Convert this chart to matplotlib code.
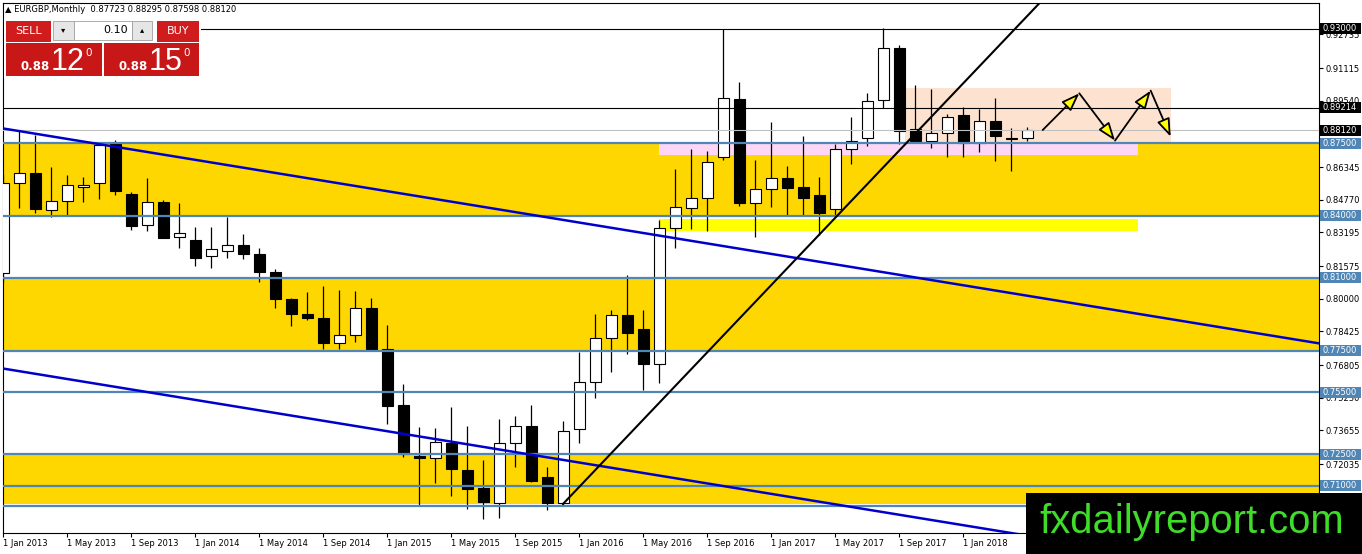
import numpy as np
import matplotlib.pyplot as plt
import matplotlib.transforms as mtransforms
from matplotlib.patches import Rectangle

# EURGBP monthly candles, Jan 2013 .. May 2018
opens = [0.8126, 0.8556, 0.8605, 0.8426, 0.8470, 0.8537, 0.8556, 0.8744, 0.8503, 0.8354,
         0.8465, 0.8296, 0.8282, 0.8205, 0.8229, 0.8258, 0.8216, 0.8130, 0.7997, 0.7925,
         0.7906, 0.7785, 0.7824, 0.7954, 0.7756, 0.7488, 0.7242, 0.7234, 0.7305, 0.7175,
         0.7086, 0.7014, 0.7303, 0.7387, 0.7140, 0.7014, 0.7371, 0.7597, 0.7809, 0.7920,
         0.7853, 0.7684, 0.8340, 0.8436, 0.8484, 0.8685, 0.8961, 0.8463, 0.8527, 0.8580,
         0.8537, 0.8500, 0.8431, 0.8720, 0.8773, 0.8958, 0.9207, 0.8817, 0.8762, 0.8797,
         0.8884, 0.8749, 0.8857, 0.8771, 0.87723]
highs = [0.8601, 0.8810, 0.8789, 0.8634, 0.8595, 0.8585, 0.8755, 0.8765, 0.8516, 0.8582,
         0.8476, 0.8460, 0.8346, 0.8346, 0.8395, 0.8312, 0.8245, 0.8145, 0.8002, 0.8031,
         0.8061, 0.8042, 0.8037, 0.8002, 0.7874, 0.7588, 0.7383, 0.7377, 0.7480, 0.7388,
         0.7223, 0.7420, 0.7436, 0.7488, 0.7191, 0.7412, 0.7745, 0.7927, 0.7946, 0.8114,
         0.7946, 0.8380, 0.8624, 0.8722, 0.8712, 0.9299, 0.9043, 0.8669, 0.8852, 0.8640,
         0.8784, 0.8588, 0.8746, 0.8874, 0.8990, 0.9303, 0.9223, 0.9030, 0.9009, 0.8890,
         0.8923, 0.8913, 0.8966, 0.8821, 0.88295]
lows = [0.8082, 0.8439, 0.8412, 0.8393, 0.8404, 0.8465, 0.8479, 0.8501, 0.8333, 0.8328,
        0.8291, 0.8246, 0.8159, 0.8150, 0.8198, 0.8193, 0.8079, 0.7954, 0.7870, 0.7898,
        0.7758, 0.7758, 0.7793, 0.7753, 0.7396, 0.7239, 0.7006, 0.7111, 0.7049, 0.6985,
        0.6937, 0.6942, 0.7191, 0.7118, 0.6982, 0.7005, 0.7306, 0.7520, 0.7648, 0.7732,
        0.7560, 0.7595, 0.8246, 0.8336, 0.8328, 0.8669, 0.8447, 0.8299, 0.8444, 0.8404,
        0.8404, 0.8307, 0.8395, 0.8648, 0.8738, 0.8918, 0.8746, 0.8755, 0.8728, 0.8685,
        0.8682, 0.8709, 0.8665, 0.8617, 0.87598]
closes = [0.8556, 0.8605, 0.8431, 0.8470, 0.8547, 0.8547, 0.8740, 0.8521, 0.8352, 0.8465,
          0.8294, 0.8315, 0.8198, 0.8238, 0.8258, 0.8214, 0.8130, 0.7997, 0.7925, 0.7906,
          0.7785, 0.7824, 0.7954, 0.7758, 0.7485, 0.7250, 0.7234, 0.7308, 0.7181, 0.7083,
          0.7022, 0.7303, 0.7387, 0.7123, 0.7014, 0.7364, 0.7600, 0.7809, 0.7920, 0.7836,
          0.7684, 0.8340, 0.8441, 0.8487, 0.8658, 0.8966, 0.8463, 0.8527, 0.8580, 0.8535,
          0.8484, 0.8412, 0.8720, 0.8762, 0.8954, 0.9207, 0.8810, 0.8762, 0.8797, 0.8874,
          0.8749, 0.8857, 0.8786, 0.8772, 0.88120]

tick_pos = list(range(0, 61, 4))
tick_labels = ['1 Jan 2013', '1 May 2013', '1 Sep 2013', '1 Jan 2014', '1 May 2014',
               '1 Sep 2014', '1 Jan 2015', '1 May 2015', '1 Sep 2015', '1 Jan 2016',
               '1 May 2016', '1 Sep 2016', '1 Jan 2017', '1 May 2017', '1 Sep 2017',
               '1 Jan 2018']
# 0.87950 sits fully under the 0.88120 / 0.87500 labels, so it is left out
price_ticks = [0.92735, 0.91115, 0.89540, 0.86345, 0.84770, 0.83195, 0.81575,
               0.80000, 0.78425, 0.76805, 0.75230, 0.73655, 0.72035, 0.70460]

support_levels = [0.875, 0.84, 0.81, 0.775, 0.755, 0.725, 0.71, 0.70]
gold_zones = [(0.84, 0.875), (0.775, 0.81), (0.7012, 0.725)]
black_levels = [0.93, 0.89214]
bid_price = 0.8812

# channel + trend lines (bar index, price)
upper_channel = ([-0.04, 82.23], [0.8821, 0.7785])
lower_channel = ([-0.04, 82.23], [0.7664, 0.6629])
uptrend = ([34.98, 64.79], [0.7011, 0.9427])
zigzag = [(64.96, 0.8813), (67.25, 0.8990), (69.48, 0.8762), (71.71, 0.9003), (72.96, 0.8781)]

W, H = 1362, 554
fig = plt.figure(figsize=(W / 100, H / 100), dpi=100)
fig.patch.set_facecolor('white')
ax = fig.add_axes([2.7 / W, 21 / H, (1319 - 2.7) / W, (533 - 2.7) / H])
ax.set_xlim(-0.0375, 82.23)
ax.set_ylim(0.68711, 0.94267)

steel = '#4f86b5'

# zones
for lo, hi in gold_zones:
    ax.axhspan(lo, hi, color='#ffd700', lw=0, zorder=0)
ax.add_patch(Rectangle((40.98, 0.86928), 70.92 - 40.98, 0.875 - 0.86928,
                       color='#fcd6f4', lw=0, zorder=0.5))
ax.add_patch(Rectangle((40.98, 0.83265), 70.92 - 40.98, 0.83843 - 0.83265,
                       color='#ffff00', lw=0, zorder=0.5))
ax.add_patch(Rectangle((56.36, 0.875), 73.0 - 56.36, 0.9014 - 0.875,
                       color='#fde3cf', lw=0, zorder=0.5))

# candles
x = np.arange(len(opens))
o = np.array(opens); c = np.array(closes)
ax.vlines(x, lows, highs, color='black', lw=0.9, zorder=3)
bottom = np.minimum(o, c)
height = np.maximum(np.abs(c - o), 0.0004)
fill = ['white' if cc >= oo else 'black' for oo, cc in zip(o, c)]
ax.bar(x, height, bottom=bottom, width=0.66, color=fill, edgecolor='black',
       linewidth=0.8, zorder=3.5)

# horizontal levels
for lvl in support_levels:
    ax.axhline(lvl, color=steel, lw=1.6, zorder=4)
for lvl in black_levels:
    ax.axhline(lvl, color='black', lw=0.8, zorder=4)
ax.axhline(bid_price, color='#c0c0c0', lw=0.8, zorder=4)

# trend lines
ax.plot(*upper_channel, color='#0000cc', lw=1.8, zorder=4.5)
ax.plot(*lower_channel, color='#0000cc', lw=1.8, zorder=4.5)
ax.plot(*uptrend, color='black', lw=1.5, zorder=4.5)

# zigzag projection
for a, b in zip(zigzag[:-1], zigzag[1:]):
    ax.annotate('', xy=b, xytext=a,
                arrowprops=dict(arrowstyle='-|>,head_length=1.1,head_width=0.4',
                                fc='yellow', ec='black', lw=1.3,
                                shrinkA=0, shrinkB=0), zorder=5)

# axes styling
for s in ax.spines.values():
    s.set_color('black')
    s.set_linewidth(0.8)
ax.yaxis.tick_right()
ax.set_yticks(price_ticks)
ax.set_yticklabels([f'{p:.5f}' for p in price_ticks])
ax.set_xticks(tick_pos)
ax.set_xticklabels(tick_labels, ha='left')
ax.tick_params(axis='both', direction='out', length=3, width=0.8, labelsize=6,
               colors='black', pad=1.5)

# highlighted price labels on the right axis (0.70000 one is under the watermark)
trans = mtransforms.blended_transform_factory(ax.transAxes, ax.transData)
axw = 1319 - 2.7
boxes = [(p, 'black') for p in black_levels + [bid_price]] + \
        [(p, steel) for p in support_levels if p > 0.705]
for p, col in boxes:
    ax.add_patch(Rectangle((1 + 1 / axw, p - 0.00265), 41 / axw, 0.0053,
                           transform=trans, color=col, lw=0, clip_on=False, zorder=6))
    ax.text(1 + 3.5 / axw, p, f'{p:.5f}', transform=trans, color='white', fontsize=6,
            va='center', ha='left', clip_on=False, zorder=7)

# overlay in pixel space: trade panel, header, watermark
ov = fig.add_axes([0, 0, 1, 1])
ov.set_xlim(0, W)
ov.set_ylim(H, 0)
ov.axis('off')

ov.text(5, 10, '\u25b2 EURGBP,Monthly  0.87723 0.88295 0.87598 0.88120', fontsize=6,
        va='center', ha='left', color='black')

def box(x0, y0, x1, y1, fc, ec='none', lw=0):
    ov.add_patch(Rectangle((x0, y0), x1 - x0, y1 - y0, fc=fc, ec=ec, lw=lw))

box(3.5, 18, 201, 78, 'white')
red = '#d01c1c'
box(6, 20.7, 50.7, 41.7, red)
box(156.7, 20.7, 199, 41.7, red)
box(53, 20.5, 74, 40, '#e6e6e6', '#a0a0a0', 0.6)
box(74, 20.5, 131.7, 40, 'white', '#a0a0a0', 0.6)
box(131.7, 20.5, 151.7, 40, '#e6e6e6', '#a0a0a0', 0.6)
box(6, 42.7, 101.7, 76, '#c71717')
box(104.3, 42.7, 199, 76, '#c71717')
ov.text(28.3, 31, 'SELL', color='white', fontsize=8, ha='center', va='center')
ov.text(178, 31, 'BUY', color='white', fontsize=8, ha='center', va='center')
ov.text(63.5, 30, '\u25be', color='black', fontsize=6, ha='center', va='center')
ov.text(141.7, 30, '\u25b4', color='black', fontsize=6, ha='center', va='center')
ov.text(128, 30, '0.10', color='black', fontsize=8, ha='right', va='center')
for bx, big in ((20.5, '12'), (118.5, '15')):
    ov.text(bx, 70, '0.88', color='white', fontsize=8.5, fontweight='bold',
            ha='left', va='baseline')
    ov.text(bx + 30, 70, big, color='white', fontsize=22, ha='left', va='baseline',
            family='Liberation Sans')
    ov.text(bx + 64.5, 56, '0', color='white', fontsize=7.5, ha='left', va='baseline')

box(1026, 493, W, H, 'black')
ov.text(1192, 533, 'fxdailyreport.com', color='#3fdc2a', fontsize=28.8,
        family='Liberation Sans', ha='center', va='baseline')

fig.savefig('out.png', dpi=100)
